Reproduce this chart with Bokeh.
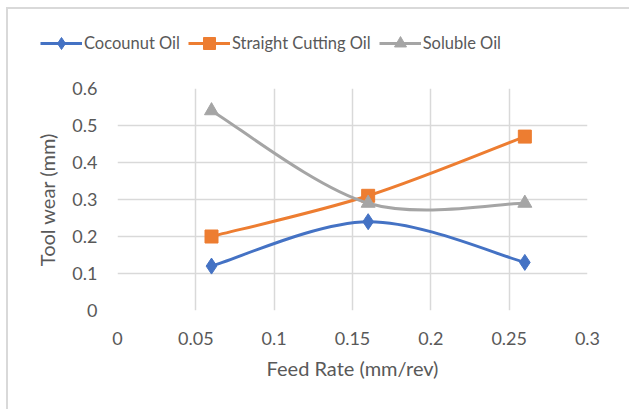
from bokeh.plotting import figure
from bokeh.layouts import column
from bokeh.models import Legend, LegendItem, FixedTicker, Range1d, ColumnDataSource
from bokeh.embed import file_html
from bokeh.resources import INLINE
import numpy as np

# Feed rate (mm/rev) and tool wear (mm) for each cutting fluid
feed_rate = [0.06, 0.16, 0.26]
coconut_oil = [0.12, 0.24, 0.13]
straight_cutting_oil = [0.20, 0.31, 0.47]
soluble_oil = [0.54, 0.29, 0.29]

series_names = ["Cocounut Oil", "Straight Cutting Oil", "Soluble Oil"]
x_ticks = [0, 0.05, 0.1, 0.15, 0.2, 0.25, 0.3]
y_ticks = [0, 0.1, 0.2, 0.3, 0.4, 0.5, 0.6]

FONT = "Lato"
TEXT = "#595959"
GRID = "#d9d9d9"

styles = [
    ("#4472c4", "diamond", 16),
    ("#ed7d31", "square", 13),
    ("#a5a5a5", "triangle", 14),
]
series_values = [coconut_oil, straight_cutting_oil, soluble_oil]


def smooth_segments(xs, ys):
    """Catmull-Rom style cubic Bezier segments through the points."""
    pts = np.column_stack([xs, ys]).astype(float)
    n = len(pts)
    seg = dict(x0=[], y0=[], x1=[], y1=[], cx0=[], cy0=[], cx1=[], cy1=[])
    for i in range(n - 1):
        p0 = pts[max(i - 1, 0)]
        p1 = pts[i]
        p2 = pts[i + 1]
        p3 = pts[min(i + 2, n - 1)]
        c1 = p1 + (p2 - p0) / 6.0
        c2 = p2 - (p3 - p1) / 6.0
        seg["x0"].append(p1[0]); seg["y0"].append(p1[1])
        seg["x1"].append(p2[0]); seg["y1"].append(p2[1])
        seg["cx0"].append(c1[0]); seg["cy0"].append(c1[1])
        seg["cx1"].append(c2[0]); seg["cy1"].append(c2[1])
    return ColumnDataSource(seg)


# ---- legend strip on top ----
leg = figure(width=621, height=60, output_backend="svg", toolbar_location=None,
             x_range=Range1d(0, 0.3), y_range=Range1d(0, 0.6),
             min_border=0, min_border_left=0, min_border_right=0,
             min_border_top=0, min_border_bottom=0, frame_align=False)
leg.axis.visible = False
leg.grid.visible = False
leg.outline_line_color = None
leg.border_fill_color = "white"

items = []
for name, ys, (color, marker, size) in zip(series_names, series_values, styles):
    ln = leg.line(feed_rate, ys, line_color=color, line_width=3, visible=False)
    mk = leg.scatter(feed_rate, ys, marker=marker, size=size,
                     fill_color=color, line_color=color, visible=False)
    items.append(LegendItem(label=name, renderers=[ln, mk]))

legend = Legend(items=items, orientation="horizontal", location=(32, 11),
                label_text_font=FONT, label_text_color=TEXT,
                label_text_font_size="16.5px", label_height=20,
                glyph_width=42, glyph_height=30, label_standoff=2,
                spacing=8, padding=0, margin=0,
                border_line_color=None, background_fill_alpha=0)
leg.add_layout(legend, "center")

# ---- main chart ----
p = figure(width=621, height=340, output_backend="svg", toolbar_location=None,
           x_range=Range1d(0, 0.3), y_range=Range1d(0, 0.6),
           min_border_left=109, min_border_right=42,
           min_border_top=19, min_border_bottom=99, frame_align=False)
p.outline_line_color = None
p.background_fill_color = "white"
p.border_fill_color = "white"

p.xgrid.ticker = FixedTicker(ticks=x_ticks)
p.ygrid.ticker = FixedTicker(ticks=y_ticks)
for g in (p.xgrid[0], p.ygrid[0]):
    g.grid_line_color = GRID
    g.grid_line_width = 1.5

for ax in (p.xaxis[0], p.yaxis[0]):
    ax.axis_line_color = None
    ax.major_tick_line_color = None
    ax.minor_tick_line_color = None
    ax.major_label_text_font = FONT
    ax.major_label_text_color = TEXT
    ax.major_label_text_font_size = "18px"
    ax.axis_label_text_font = FONT
    ax.axis_label_text_color = TEXT
    ax.axis_label_text_font_size = "20px"
    ax.axis_label_text_font_style = "normal"

p.xaxis.ticker = FixedTicker(ticks=x_ticks)
p.yaxis.ticker = FixedTicker(ticks=y_ticks)
p.xaxis.major_label_overrides = {t: f"{t:g}" for t in x_ticks}
p.yaxis.major_label_overrides = {t: f"{t:g}" for t in y_ticks}
p.xaxis.major_label_standoff = 15
p.yaxis.major_label_standoff = 14
p.xaxis.axis_label = "Feed Rate (mm/rev)"
p.yaxis.axis_label = "Tool wear (mm)"
p.xaxis.axis_label_standoff = 8
p.yaxis.axis_label_standoff = 10

for ys, (color, marker, size) in zip(series_values, styles):
    src = smooth_segments(feed_rate, ys)
    p.bezier(x0="x0", y0="y0", x1="x1", y1="y1",
             cx0="cx0", cy0="cy0", cx1="cx1", cy1="cy1",
             source=src, line_color=color, line_width=3)
    p.scatter(feed_rate, ys, marker=marker, size=size,
              fill_color=color, line_color=color)

# chart area with a thin light border on its top and left edges
layout = column(leg, p, spacing=0, margin=(7, 0, 0, 6),
                styles={"border-left": "2px solid #d9d9d9",
                        "border-top": "2px solid #d9d9d9"})

open("out.html", "w").write(file_html(layout, INLINE))
